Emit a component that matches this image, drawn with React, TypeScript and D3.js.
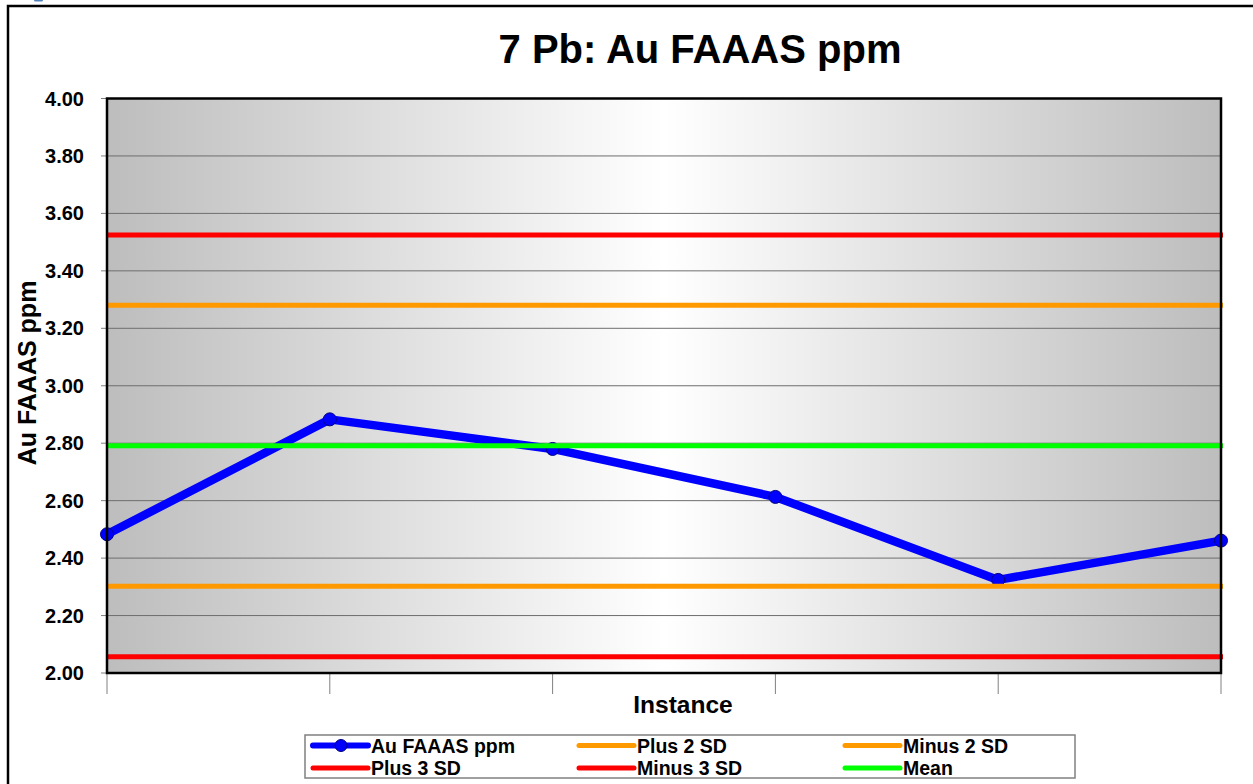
import React from "react";
import * as d3 from "d3";

const TITLE = "7 Pb: Au FAAAS ppm";
const Y_TITLE = "Au FAAAS ppm";
const X_TITLE = "Instance";
const instances = ["1", "2", "3", "4", "5", "6"];
const auValues = [2.483, 2.883, 2.78, 2.613, 2.324, 2.461];
const yTicks = [2.0, 2.2, 2.4, 2.6, 2.8, 3.0, 3.2, 3.4, 3.6, 3.8, 4.0];
const refNames = ["Plus 2 SD", "Minus 2 SD", "Plus 3 SD", "Minus 3 SD", "Mean"];
const refValues = [3.28, 2.302, 3.525, 2.057, 2.791];
const refColors = ["#FF9900", "#FF9900", "#FF0000", "#FF0000", "#00FF00"];
const seriesName = "Au FAAAS ppm";

const W = 1253;
const H = 784;
const M = { left: 107, right: 1221, top: 98.5, bottom: 673 };
const FONT = "Arial, 'Liberation Sans', sans-serif";

export default function App() {
  const x = d3.scalePoint<string>().domain(instances).range([M.left, M.right]);
  const y = d3.scaleLinear().domain([2, 4]).range([M.bottom, M.top]);
  const line = d3
    .line<number>()
    .x((_, i) => x(instances[i]) as number)
    .y((d) => y(d));

  const legendItems = [
    { name: seriesName, color: "#0000FF", marker: true },
    ...refNames.map((n, i) => ({ name: n, color: refColors[i], marker: false })),
  ];
  const legCols = [313, 579, 845];
  const legRows = [745.5, 768];

  return (
    <svg
      width={W}
      height={H}
      style={{ position: "absolute", left: 0, top: 0, background: "#fff" }}
      fontFamily={FONT}
    >
      <defs>
        <linearGradient id="plotGrad" x1="0" y1="0" x2="1" y2="0">
          <stop offset="0" stopColor="#bdbdbd" />
          <stop offset="0.5" stopColor="#ffffff" />
          <stop offset="1" stopColor="#bdbdbd" />
        </linearGradient>
      </defs>
      <rect x={0} y={0} width={W} height={H} fill="#fff" />
      <rect x={34} y={-2} width={9} height={3.5} rx={1.5} fill="#4f81bd" />
      {/* outer chart border */}
      <rect x={8} y={6} width={W + 20} height={H + 20} fill="none" stroke="#000" strokeWidth={2.5} />

      {/* title */}
      <text x={700} y={63} textAnchor="middle" fontSize={40} fontWeight="bold" fill="#000">
        {TITLE}
      </text>

      {/* plot background */}
      <rect
        x={M.left}
        y={M.top}
        width={M.right - M.left}
        height={M.bottom - M.top}
        fill="url(#plotGrad)"
      />
      {/* gridlines */}
      {yTicks.map((t) => (
        <line
          key={"g" + t}
          x1={M.left}
          x2={M.right}
          y1={y(t)}
          y2={y(t)}
          stroke="#6e6e6e"
          strokeWidth={1}
        />
      ))}
      {/* y ticks and labels */}
      {yTicks.map((t) => (
        <g key={"t" + t}>
          <line x1={101} x2={M.left} y1={y(t)} y2={y(t)} stroke="#808080" strokeWidth={1} />
          <text
            x={84}
            y={y(t) + 7}
            textAnchor="end"
            fontSize={20}
            fontWeight="bold"
            fill="#000"
          >
            {t.toFixed(2)}
          </text>
        </g>
      ))}
      {/* x ticks */}
      {instances.map((c) => (
        <line
          key={"x" + c}
          x1={x(c)}
          x2={x(c)}
          y1={M.bottom}
          y2={694}
          stroke="#808080"
          strokeWidth={1}
        />
      ))}

      {/* data series */}
      <path
        d={line(auValues) || ""}
        fill="none"
        stroke="#0000FF"
        strokeWidth={8.5}
        strokeLinejoin="round"
      />
      {auValues.map((v, i) => (
        <circle
          key={"m" + i}
          cx={x(instances[i])}
          cy={y(v)}
          r={6.5}
          fill="#0000FF"
          stroke="#000080"
          strokeWidth={1}
        />
      ))}

      {/* reference lines */}
      {refValues.map((v, i) => (
        <line
          key={"r" + i}
          x1={M.left}
          x2={M.right + 2}
          y1={y(v)}
          y2={y(v)}
          stroke={refColors[i]}
          strokeWidth={5}
        />
      ))}

      {/* plot border */}
      <rect
        x={M.left}
        y={M.top}
        width={M.right - M.left}
        height={M.bottom - M.top}
        fill="none"
        stroke="#000"
        strokeWidth={2.5}
      />

      {/* axis titles */}
      <text
        transform={`translate(36, 373) rotate(-90)`}
        textAnchor="middle"
        fontSize={25}
        fontWeight="bold"
        fill="#000"
      >
        {Y_TITLE}
      </text>
      <text x={683} y={713} textAnchor="middle" fontSize={24.5} fontWeight="bold" fill="#000">
        {X_TITLE}
      </text>

      {/* legend */}
      <rect x={305} y={735} width={770} height={43} fill="#fff" stroke="#808080" strokeWidth={1.5} />
      {legendItems.map((it, i) => {
        const col = i % 3;
        const row = Math.floor(i / 3);
        const lx = legCols[col];
        const ly = legRows[row];
        return (
          <g key={"l" + i}>
            <line
              x1={lx}
              x2={lx + 55}
              y1={ly}
              y2={ly}
              stroke={it.color}
              strokeWidth={it.marker ? 6 : 5}
              strokeLinecap="round"
            />
            {it.marker && (
              <circle cx={lx + 28} cy={ly} r={6} fill="#0000FF" stroke="#000080" strokeWidth={1} />
            )}
            <text x={lx + 58} y={ly + 7} fontSize={19.5} fontWeight="bold" fill="#000">
              {it.name}
            </text>
          </g>
        );
      })}
    </svg>
  );
}
